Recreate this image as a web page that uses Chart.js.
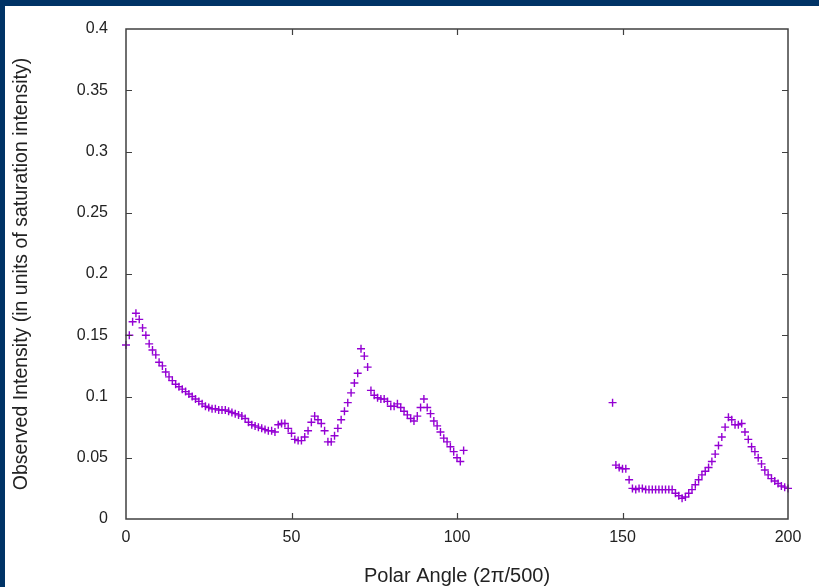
<!DOCTYPE html>
<html>
<head>
<meta charset="utf-8">
<script src="https://cdn.jsdelivr.net/npm/chart.js@4.4.1/dist/chart.umd.min.js"></script>
<style>
    html, body { margin: 0; padding: 0; background: #003366; width: 819px; height: 587px; overflow: hidden; }
    #wrap { position: absolute; left: 5px; top: 6px; width: 814px; height: 581px; background: #fff; }
</style>
</head>
<body>
<div id="wrap"><canvas id="chart" width="814" height="581"></canvas></div>
<script>
// polar angle, in units of 2pi/500 : first block starts at 0, second at 147
const startA = 0;
const startB = 147;

// observed intensity, one value per unit of angle
const intensityA = [
    0.142, 0.150, 0.161, 0.168, 0.163, 0.156, 0.150, 0.143, 0.138, 0.134,
    0.128, 0.125, 0.120, 0.116, 0.113, 0.110, 0.108, 0.106, 0.104, 0.102,
    0.100, 0.098, 0.096, 0.094, 0.092, 0.091, 0.090, 0.090, 0.089, 0.089,
    0.089, 0.088, 0.087, 0.086, 0.085, 0.084, 0.082, 0.079, 0.077, 0.076,
    0.075, 0.074, 0.073, 0.072, 0.072, 0.071, 0.077, 0.078, 0.078, 0.074,
    0.070, 0.065, 0.064, 0.064, 0.067, 0.072, 0.079, 0.084, 0.081, 0.078,
    0.072, 0.063, 0.063, 0.068, 0.074, 0.081, 0.088, 0.095, 0.103, 0.111,
    0.119, 0.139, 0.133, 0.124, 0.105, 0.101, 0.099, 0.098, 0.098, 0.096,
    0.092, 0.092, 0.094, 0.091, 0.088, 0.085, 0.082, 0.080, 0.084, 0.091,
    0.098, 0.091, 0.086, 0.080, 0.076, 0.071, 0.066, 0.063, 0.059, 0.055,
    0.050, 0.047, 0.056
];
const intensityB = [
    0.095, 0.044, 0.042, 0.041, 0.041, 0.032, 0.025, 0.024, 0.025, 0.025,
    0.024, 0.024, 0.024, 0.024, 0.024, 0.024, 0.024, 0.024, 0.024, 0.021,
    0.019, 0.017, 0.018, 0.021, 0.024, 0.028, 0.032, 0.036, 0.039, 0.042,
    0.047, 0.053, 0.060, 0.067, 0.075, 0.083, 0.081, 0.077, 0.077, 0.078,
    0.071, 0.065, 0.059, 0.055, 0.050, 0.045, 0.040, 0.036, 0.033, 0.031,
    0.029, 0.027, 0.026, 0.025
];

const xTicks = [0, 50, 100, 150, 200];
const yTicks = [0, 0.05, 0.1, 0.15, 0.2, 0.25, 0.3, 0.35, 0.4];

const points = [];
intensityA.forEach((v, i) => points.push({ x: startA + i, y: v }));
intensityB.forEach((v, i) => points.push({ x: startB + i, y: v }));

const axisColor = '#404040';
const textColor = '#222';
const fontFam = 'Arial, "Liberation Sans", sans-serif';

// gnuplot style frame with inward ticks on all four sides
const framePlugin = {
    id: 'frame',
    afterDraw(chart) {
        const { ctx, chartArea: a, scales } = chart;
        ctx.save();
        ctx.strokeStyle = axisColor;
        ctx.lineWidth = 1.5;
        ctx.strokeRect(a.left, a.top, a.right - a.left, a.bottom - a.top);
        ctx.lineWidth = 1.2;
        ctx.beginPath();
        const len = 6;
        xTicks.forEach(t => {
            const px = Math.round(scales.x.getPixelForValue(t)) + 0.5;
            if (t === 0 || t === 200) return;
            ctx.moveTo(px, a.bottom); ctx.lineTo(px, a.bottom - len);
            ctx.moveTo(px, a.top); ctx.lineTo(px, a.top + len);
        });
        yTicks.forEach(t => {
            const py = Math.round(scales.y.getPixelForValue(t)) + 0.5;
            if (t === 0 || t === 0.4) return;
            ctx.moveTo(a.left, py); ctx.lineTo(a.left + len, py);
            ctx.moveTo(a.right, py); ctx.lineTo(a.right - len, py);
        });
        ctx.stroke();
        ctx.restore();
    }
};

new Chart(document.getElementById('chart'), {
    type: 'scatter',
    data: {
        datasets: [{
            data: points,
            showLine: false,
            pointStyle: 'cross',
            pointRadius: 4,
            pointHoverRadius: 4,
            borderColor: '#9400d3',
            backgroundColor: '#9400d3',
            borderWidth: 1.4,
            clip: false
        }]
    },
    options: {
        responsive: false,
        animation: false,
        devicePixelRatio: 1,
        layout: { padding: { top: 23, right: 31, left: 0, bottom: 0 } },
        plugins: { legend: { display: false }, tooltip: { enabled: false } },
        scales: {
            x: {
                type: 'linear',
                min: 0, max: 200,
                afterBuildTicks: s => { s.ticks = xTicks.map(v => ({ value: v })); },
                afterFit: s => { s.height = 68; s.paddingLeft = 0; s.paddingRight = 0; },
                grid: { display: false, drawTicks: false },
                border: { display: false },
                ticks: { color: textColor, font: { family: fontFam, size: 16 }, padding: 9, maxRotation: 0 },
                title: {
                    display: true,
                    text: 'Polar Angle (2π/500)',
                    color: textColor,
                    font: { family: fontFam, size: 20 },
                    padding: { top: 0, bottom: -1 }
                }
            },
            y: {
                min: 0, max: 0.4,
                afterBuildTicks: s => { s.ticks = yTicks.map(v => ({ value: v })); },
                afterFit: s => { s.width = 121; s.paddingTop = 0; s.paddingBottom = 0; },
                grid: { display: false, drawTicks: false },
                border: { display: false },
                ticks: { color: textColor, font: { family: fontFam, size: 16 }, padding: 18, callback: v => String(v) },
                title: {
                    display: true,
                    text: 'Observed Intensity (in units of saturation intensity)',
                    color: textColor,
                    font: { family: fontFam, size: 19.5 },
                    padding: { top: 5, bottom: 0 }
                }
            }
        }
    },
    plugins: [framePlugin]
});
</script>
</body>
</html>
